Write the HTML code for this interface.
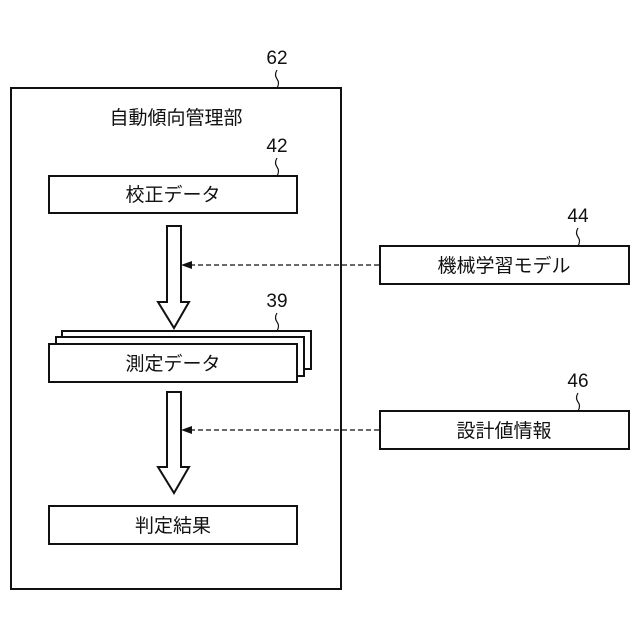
<!DOCTYPE html>
<html><head><meta charset="utf-8"><style>
html,body{margin:0;padding:0;background:#fff;width:640px;height:640px;overflow:hidden}
text{font-family:"Liberation Sans","Noto Sans CJK JP",sans-serif;fill:#111}
</style></head><body>
<svg width="640" height="640" xmlns="http://www.w3.org/2000/svg">
<g fill="none" stroke="#111" stroke-width="2">
<rect x="11" y="88" width="330" height="501" fill="#fff"/>
<rect x="49" y="176" width="248" height="37" fill="#fff"/>
<rect x="380" y="246" width="249" height="38" fill="#fff"/>
<rect x="62" y="331" width="249" height="38" fill="#fff"/>
<rect x="56" y="337" width="248" height="39" fill="#fff"/>
<rect x="49" y="344" width="248" height="38" fill="#fff"/>
<rect x="380" y="411" width="249" height="38" fill="#fff"/>
<rect x="49" y="506" width="248" height="38" fill="#fff"/>
<path d="M167 226 V302 H158 L174 328 L189 302 H181 V226 Z" fill="#fff"/>
<path d="M167 392 V467 H158 L174 493 L189 467 H181 V392 Z" fill="#fff"/>
</g>
<g stroke="#111" stroke-width="1.3" fill="none" stroke-dasharray="5,3">
<line x1="190" y1="265" x2="380" y2="265"/>
<line x1="190" y1="430" x2="380" y2="430"/>
</g>
<path d="M181 265 L192 261 L192 269 Z" fill="#111"/>
<path d="M181 430 L192 426 L192 434 Z" fill="#111"/>
<g stroke="#111" stroke-width="1.2" fill="none">
<path d="M277 70 q-3 5 0 9 q3 4 0 9"/>
<path d="M277 158 q-3 5 0 9 q3 4 0 9"/>
<path d="M277 313 q-3 5 0 9 q3 4 0 9"/>
<path d="M578 228 q-3 5 0 9 q3 4 0 9"/>
<path d="M578 393 q-3 5 0 9 q3 4 0 9"/>
</g>
<g font-size="19" text-anchor="middle">
<text x="277" y="64">62</text>
<text x="277" y="152">42</text>
<text x="277" y="307">39</text>
<text x="578" y="222">44</text>
<text x="578" y="387">46</text>
<text x="176" y="124">自動傾向管理部</text>
<text x="173" y="201">校正データ</text>
<text x="504" y="272">機械学習モデル</text>
<text x="173" y="370">測定データ</text>
<text x="504" y="437">設計値情報</text>
<text x="173" y="532">判定結果</text>
</g>
</svg>
</body></html>
